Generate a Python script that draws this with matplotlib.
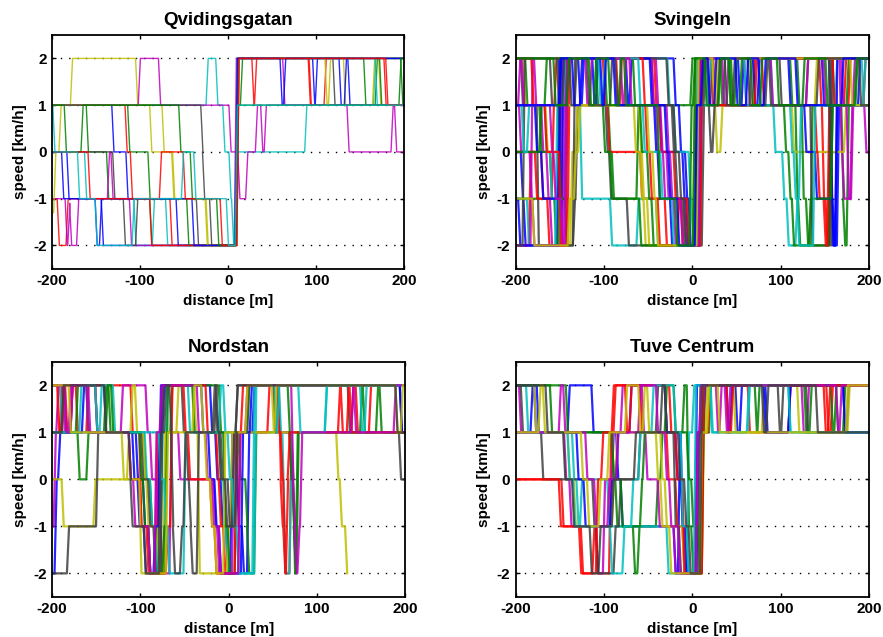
import matplotlib
matplotlib.use("Agg")
import matplotlib.pyplot as plt

plt.rcParams['font.family'] = ['Liberation Sans', 'DejaVu Sans']
plt.rcParams['font.weight'] = 'bold'
plt.rcParams['axes.unicode_minus'] = False

titles = ['Qvidingsgatan', 'Svingeln', 'Nordstan', 'Tuve Centrum']
xlabel = 'distance [m]'
ylabel = 'speed [km/h]'
xticks = [-200, -100, 0, 100, 200]
yticks = [-2, -1, 0, 1, 2]

# old matlab colour order: b g r c m y k
colors = [(0, 0, 1), (0, 0.5, 0), (1, 0, 0), (0, 0.75, 0.75),
          (0.75, 0, 0.75), (0.75, 0.75, 0), (0.25, 0.25, 0.25)]

# each trace: (distance where speed switches, new speed); None = trace ends
qvidingsgatan = [
    [(-200, 0), (-182, -1), (-143, -2), (9, 2), (137, 1)],
    [(-200, 1), (-160, 0), (-137, -1), (-88, -2), (10, 2), (155, 1), (168, 2), (197, 1)],
    [(-200, -1), (-193, -2), (-183, -1), (-65, -2), (11, 2), (28, 1), (31, 2), (93, 1)],
    [(-200, 1), (-198, 0), (-162, -1), (-106, -2), (-85, -1), (-70, -2), (8, 0), (88, 1), (166, 2)],
    [(-200, -1), (-184, -2), (-181, -1.1), (-179, -2), (-171, -1), (-136, 0), (-132, -1), (-111, -2),
     (8, 2), (63, 1), (136, 0), (186, 1), (190, 0)],
    [(-200, -1.3), (-197, 0), (-191, 1), (-178, 2), (-104, 1), (-74, 0), (-62, -1), (-24, -2),
     (9, 2), (132, 1), (165, 2), (172, 1)],
    [(-200, 0), (-130, -1), (-118, -2), (-104, -1), (-35, -2), (10, 2), (120, 1)],
    [(-200, 1), (-131, 0), (-115, -1), (-58, -2), (10, 2), (97, 1), (100, 2), (127, 1), (133, 2)],
    [(-200, 1), (-113, 0), (-90, -1), (-46, -2), (9, 1), (15, 2), (173, 1)],
    [(-200, 1), (-116, 0), (-110, -1), (-88, -2), (10, 2), (92, 1), (110, 2), (178, 1)],
    [(-200, 1), (-24, 2), (-13, 1), (-5, 0), (2, -1), (5, -2), (11, 2), (168, 1)],
    [(-200, 1), (-101, 2), (-78, 1), (2, 0), (12, -1), (21, 0), (32, 1), (38, 0), (42, 1)],
    [(-200, 1), (-88, 0), (-63, -1), (-25, -2), (10, 2), (111, 1), (115, 2)],
    [(-200, 1), (-30, 0), (-28, -1), (-20, -2), (10, 2)],
    [(-200, 0), (-188, -1), (-150, -2), (-145, -1), (-40, -2), (9, 2), (60, 1), (64, 2)],
    [(-200, 1), (-185, 0), (-166, 1), (-55, 0), (-42, -1), (-12, -2), (10, 1), (195, 2)],
    [(-200, 0), (-158, -1), (-77, 0), (-50, -1), (-8, -2), (11, 2), (180, 1)],
    [(-200, 0), (-170, -1), (-150, -2), (-108, -1), (-52, 0), (-38, -1), (-1, -2), (9, 1)],
]

svingeln = [
    [(-200, 0), (-193, -1), (-190, -2), (-152, 2), (-112, 1), (-108, 2), (-45, 1), (-36, 0), (-10, -1),
     (-6, -2), (4, 2), (53, 1), (57, 2), (156, 1), (158, -2), (165, 1), (189, 2)],
    [(-200, -1), (-155, -2), (-150, 2), (-98, 1), (-94, 0), (-90, -1), (-62, 1), (-1, 2), (45, 1), (49, 2),
     (112, 1), (118, -1), (121, -2), (135, 1), (170, -1), (172, -2), (176, 1), (186, 2)],
    [(-200, -2), (-184, 0), (-170, -1), (-163, -2), (-140, 2), (-100, 1), (-95, 0), (-58, -1), (-30, -2),
     (8, 2), (25, 1), (70, 2), (145, 1), (148, -1), (152, -2), (156, 1), (178, 2)],
    [(-200, -1), (-186, -2), (-154, 1), (-126, -1), (-92, -2), (-62, -1), (-40, -2), (8, 2), (16, 1),
     (21, 2), (160, 1), (163, 2), (193, 1)],
    [(-200, -2), (-182, 2), (-178, 1), (-170, 0), (-164, -1), (-160, -2), (-148, 2), (-45, 1), (-40, 0),
     (-28, -1), (-8, -2), (10, 2), (60, 1), (66, 2), (168, 0), (171, -1), (180, 1), (196, 0)],
    [(-200, 1), (-59, 0), (-56, -1), (-54, -2), (3, 2), (69, 1), (114, 0), (173, 1)],
    [(-200, 2), (-193, 1), (-175, -2), (-134, -1), (-131, 1), (-97, 0), (-93, -1), (-73, -2), (9, 1),
     (12, 2), (100, 1), (135, -2), (156, 2)],
    [(-200, -1), (-196, -2), (-147, 2), (-74, 1), (-70, 2), (-20, 1), (-14, 0), (-7, -1), (-3, -2),
     (6, 1), (10, 2), (148, 1), (157, -1), (159, -2), (163, 2)],
    [(-200, 2), (-188, 1), (-172, 0), (-160, -1), (-143, 2), (-66, 1), (-58, 0), (-50, -1), (-45, -2),
     (5, 1), (12, 2), (33, 1), (36, 2), (120, 1), (125, -1), (130, -2), (155, 1)],
    [(-200, 0), (-177, -1), (-158, 1), (-155, 2), (-85, 1), (-81, 2), (-42, 1), (-36, 0), (-20, -1),
     (-5, -2), (7, 2), (80, 1), (140, 0), (143, -1), (150, -2), (154, 1), (195, 2)],
    [(-200, 1), (-166, 0), (-160, -1), (-142, 2), (-27, 1), (-20, 0), (-3, -1), (0, -2), (5, 2), (90, 1),
     (93, 0), (103, -1), (108, -2), (118, -1), (122, 1), (195, 2)],
    [(-200, 1), (-195, 0), (-183, -1), (-180, -2), (-145, 2), (-80, 1), (-76, 2), (-40, 1), (-35, 0),
     (-32, -1), (-20, -2), (9, 2), (35, 1), (40, 2), (150, 1), (176, -1), (181, 1)],
    [(-200, 2), (-190, 1), (-165, 0), (-150, -2), (-137, 0), (-131, 1), (-65, 0), (-58, -1), (-50, -2),
     (2, 1), (27, 0), (33, 1), (140, 2)],
    [(-200, -2), (-191, 2), (-160, 1), (-150, -1), (-143, -2), (-134, 2), (-28, 1), (-22, 0), (-18, -1),
     (-10, -2), (12, 1), (20, 0), (24, 1), (130, 2), (156, -2), (158, 2)],
    [(-200, 1), (-177, 0), (-170, -1), (-150, 2), (-128, 1), (-124, 2), (-47, 1), (-42, 0), (-38, -1),
     (-24, -2), (8, 2), (70, 1), (75, 2), (110, 1), (128, 0), (140, -1), (160, -2), (163, 1)],
    [(-200, 0), (-172, 1), (-166, 2), (-108, 1), (-100, 0), (-92, -1), (-59, -2), (-2, 1), (2, 2), (42, 1),
     (105, 0), (110, -1), (114, -2), (133, -1), (158, 1), (176, 2)],
    [(-200, 2), (-181, 1), (-166, 0), (-150, -2), (-142, 2), (-55, 1), (-52, 0), (-47, -1), (-38, -2),
     (-16, -1), (-12, -2), (10, 2), (22, 1), (72, 2), (160, 1), (173, 2)],
    [(-200, 1), (-192, 0), (-186, 1), (-145, 2), (-105, 1), (-100, 2), (-60, 1), (-55, 0), (-35, -1),
     (-22, -2), (7, 1), (20, 2), (60, 1), (112, 0), (116, -1), (120, -2), (138, 1)],
    [(-200, 1), (-196, 2), (-192, 1), (-160, 0), (-156, -1), (-148, -2), (-143, 2), (-120, 1), (-115, 2),
     (-70, 1), (-28, 0), (-24, -1), (-12, -2), (8, 2), (90, 1), (130, 2), (170, 1), (183, 2)],
    [(-200, -1), (-180, -2), (-140, -1), (-133, 0), (-128, 1), (-50, 0), (-44, -1), (-40, -2), (6, 2),
     (24, 1), (28, 2), (180, 1)],
    [(-200, 2), (-152, 1), (-146, 2), (-138, 1), (-132, 2), (-118, 1), (-92, 2), (-86, 1), (-20, 0),
     (-14, -1), (-8, -2), (3, 1), (14, 2), (18, 1), (30, 2), (38, 1), (47, 2), (64, 1), (84, 2), (88, 1),
     (142, 2), (190, 1)],
    [(-200, 1), (-150, 2), (-135, 1), (-126, 2), (-103, 1), (-99, 2), (-88, 1), (-30, 0), (-26, -1),
     (-16, -2), (4, 1), (11, 2), (19, 1), (26, 2), (50, 1), (62, 2), (76, 1), (82, 2), (118, 1), (170, 2)],
    [(-200, 2), (-156, 1), (-141, 2), (-116, 1), (-110, 2), (-94, 1), (-82, 2), (-76, 1), (-38, -1),
     (-18, -2), (2, 2), (15, 1), (31, 2), (43, 1), (55, 2), (67, 1), (78, 2), (97, 1), (126, 2), (152, 1),
     (185, 2)],
]

nordstan = [
    [(-200, -2), (-196, 0), (-192, 1), (-178, 2), (-140, 1), (-104, 0), (-96, -1), (-90, -2), (-80, 1),
     (-74, 2), (-20, 1), (-14, 0), (-8, -1), (-2, -2), (3, 1), (10, -1), (16, -2), (22, 1), (28, 2), (195, 1)],
    [(-200, 2), (-185, 1), (-170, 0), (-160, 1), (-140, 2), (-135, 1), (-95, 0), (-88, -1), (-80, -2),
     (-72, 1), (-65, 2), (-10, 1), (12, 0), (20, -1), (22, -2), (30, 1), (72, 0), (73, -1), (75, -2),
     (78, 1), (168, 2), (172, 1)],
    [(-200, 1), (-190, 2), (-184, 1), (-178, 2), (-172, 1), (-160, 2), (-110, 1), (-100, -1), (-90, -2),
     (-82, 1), (-76, 2), (-25, 1), (-13, 0), (-10, -1), (-5, -2), (12, 1), (45, 2), (58, 0), (60, -1),
     (63, -2), (70, 1), (125, 2), (128, 1), (140, 2), (145, 1), (160, 2)],
    [(-200, 2), (-190, 1), (-145, 2), (-130, 1), (-94, 0), (-88, -1), (-82, -2), (-76, 1), (-70, 2),
     (-45, 1), (-10, 0), (-5, -1), (-2, -2), (30, 2), (58, 1), (62, -1), (64, -2), (70, 1), (110, 2)],
    [(-200, -1), (-197, 1), (-194, 2), (-187, 1), (-180, 2), (-158, 1), (-121, 2), (-93, 1), (-88, 0),
     (-81, -1), (-76, -2), (-66, 1), (-56, 0), (-16, -1), (-12, -2), (5, 1), (22, 2), (52, 1), (70, 0),
     (74, -1), (75, -1.75), (76, None)],
    [(-200, 0), (-188, -1), (-152, 0), (-114, 1), (-110, 2), (-105, 1), (-96, 0), (-92, -1), (-80, -2),
     (-73, 1), (-58, 2), (-38, 1), (-34, -2), (-1, -1), (3, 1), (123, 0), (127, -1), (133, -2), (134, None)],
    [(-200, -2), (-182, -1), (-149, 1), (-98, 0), (-90, -1), (-84, -2), (-76, 2), (-52, 1), (-47, 0),
     (-44, -1), (-42, -2), (-35, 1), (-17, 2), (-14, 1), (-10, 0), (0, -1), (5, 1), (9, 2), (52, 1),
     (55, 2), (136, 1), (194, 0)],
    [(-200, 1), (-165, 2), (-150, 1), (-108, 0), (-102, -1), (-95, -2), (-84, -1), (-78, 2), (-30, 1),
     (-22, 0), (-15, -1), (-10, -2), (15, 1), (25, 2), (195, 1)],
    [(-200, 1), (-172, 2), (-160, 1), (-138, 2), (-132, 1), (-100, 0), (-96, -1), (-90, -2), (-74, -1),
     (-70, 2), (-40, 1), (-5, -1), (0, -2), (8, 1), (22, 2), (68, 1), (70, 0), (74, -2), (77, 1),
     (150, 2), (153, 1)],
    [(-200, 2), (-193, 1), (-188, 2), (-150, 1), (-112, 0), (-100, -1), (-92, -2), (-70, -1), (-65, 2),
     (-50, 1), (-45, 0), (-20, -1), (-15, -2), (8, 1), (15, 2), (56, 1), (60, 0), (63, -2), (66, 0),
     (68, 1), (135, 2), (138, 1)],
    [(-200, 1), (-168, 2), (-150, 1), (-78, 0), (-72, -1), (-68, -2), (-50, 1), (-10, 2), (-5, 1), (0, 0),
     (5, -1), (10, -2), (28, 2), (53, 1), (56, 2), (80, 1), (110, 2), (150, 1), (155, 2)],
    [(-200, 2), (-185, 1), (-178, 2), (-160, 1), (-112, 0), (-107, -1), (-90, -2), (-83, 1), (-77, 2),
     (-35, 1), (-25, 0), (-18, -1), (-10, -2), (12, 1), (20, 2), (72, 0), (74, -1), (76, -2), (79, -1),
     (82, 1), (140, 2), (143, 1), (188, 2)],
    [(-200, 2), (-180, 1), (-120, 0), (-100, -2), (-70, 1), (-40, 2), (-30, 1), (-26, 0), (-20, -1),
     (-15, -2), (-5, 1), (20, 2), (50, 1), (53, 2), (190, 1), (196, 2)],
    [(-200, 1), (-188, 2), (-140, 1), (-112, 0), (-110, -1), (-95, -2), (-78, 1), (-72, 2), (-66, 1),
     (-64, -1), (-62, -2), (-54, -1), (-50, 1), (-15, 2), (-13, 1), (-8, 0), (-3, -1), (8, 1), (9, 2),
     (190, 1)],
]

tuve = [
    [(-200, 1), (-182, 2), (-178, 1), (-140, 2), (-113, 1), (-85, 0), (-80, -1), (-20, -2), (-15, 1),
     (-12, -1), (-6, -2), (6, 1), (14, 2), (50, 1), (55, 2), (84, 1), (110, 2), (172, 1), (176, 2)],
    [(-200, 2), (-142, 1), (-90, 0), (-86, -1), (-66, -2), (-61, -1), (-40, 0), (-35, 1), (-10, 2),
     (-5, -1), (0, -2), (11, 1), (20, 2), (72, 1), (75, 2), (164, 1), (172, 2)],
    [(-200, 0), (-147, -1), (-127, -2), (-112, -1), (-108, -2), (-93, 1), (-88, 2), (-58, 1), (-28, 0),
     (-18, -1), (-10, -2), (11, 1), (19, 2), (64, 1), (110, 2), (153, 1), (158, 2)],
    [(-200, 2), (-187, 1), (-135, 0), (-130, -1), (-126, 0), (-95, -1), (-28, -2), (-5, 1), (1, 2),
     (21, 1), (64, 2), (110, 1)],
    [(-200, 2), (-195, 1), (-144, 0), (-138, -1), (-108, -2), (-100, 0), (-90, 1), (-80, 2), (-56, 1),
     (-52, 0), (-38, -1), (-20, -2), (5, 1), (12, 2), (28, 1), (32, 2), (125, 1), (131, 2)],
    [(-200, 2), (-178, 1), (-140, 0), (-133, -1), (-90, 0), (-86, 1), (-55, 2), (-50, 1), (-35, 0),
     (-30, -1), (-10, -2), (12, 1), (16, 2), (48, 1), (80, 2), (120, 1), (177, 2)],
    [(-200, 2), (-193, 1), (-170, 0), (-112, -1), (-108, -2), (-88, -1), (-82, 0), (-60, 1), (-40, 2),
     (-30, 1), (-20, -1), (-14, -2), (8, 2), (98, 1), (102, 2), (130, 1)],
    [(-200, 2), (-175, 1), (-130, 0), (-122, -1), (-92, 0), (-85, 1), (-70, 2), (-30, 1), (-18, 0),
     (-12, -1), (-8, -2), (4, 2), (40, 1), (44, 2), (82, 1), (110, 2), (172, 1)],
    [(-200, 2), (-160, 1), (-90, 0), (-80, -1), (-58, 0), (-55, 1), (-30, 2), (-20, 1), (-5, 0), (0, -1),
     (8, -2), (12, 2), (128, 1), (134, 2), (158, 1), (162, 2)],
    [(-200, 0), (-150, -1), (-125, -2), (-108, 0), (-102, 1), (-90, 2), (-75, 1), (-70, 2), (-25, 1),
     (-18, 0), (-10, -2), (12, 2), (40, 1), (45, 2), (150, 1), (155, 2)],
    [(-200, 1), (-140, 0), (-134, -1), (-92, -2), (-78, -1), (-68, 0), (-60, 1), (-45, 2), (-20, 1),
     (-12, -1), (-5, -2), (3, 2), (22, 1), (63, 2), (110, 1)],
    [(-200, 1), (-150, 2), (-145, 1), (-120, 0), (-110, -1), (-95, 0), (-85, 1), (-60, 2), (-40, 1),
     (-30, 0), (-25, -1), (-15, -2), (5, 1), (9, 2), (38, 1), (42, 2), (164, 1), (168, 2)],
    [(-200, 1), (-173, 2), (-168, 1), (-125, 0), (-118, -1), (-105, 0), (-95, 1), (-75, 2), (-60, 1),
     (-40, 0), (-35, -1), (-25, -2), (10, 1), (18, 2), (30, 1), (175, 2)],
    [(-200, 2), (-165, 1), (-145, 0), (-135, -1), (-115, -2), (-105, -1), (-90, 0), (-65, 1), (-35, 2),
     (-30, 1), (-15, 0), (-8, -1), (-3, -2), (10, 2), (80, 1), (85, 2), (141, 1)],
]

panels = [qvidingsgatan, svingeln, nordstan, tuve]
widths = [1.0, 1.6, 1.6, 1.6]


def trace_xy(trace, ramp=2.5):
    xs, ys = [trace[0][0]], [trace[0][1]]
    lev = trace[0][1]
    for x, new in trace[1:]:
        if new is None:
            xs.append(x)
            ys.append(lev)
            return xs, ys
        xs += [x - ramp / 2, x + ramp / 2]
        ys += [lev, new]
        lev = new
    xs.append(200)
    ys.append(lev)
    return xs, ys


fig = plt.figure(figsize=(8.83, 6.37), dpi=100)
rects = [[0.059, 0.578, 0.399, 0.367], [0.584, 0.578, 0.400, 0.367],
         [0.059, 0.063, 0.400, 0.369], [0.584, 0.063, 0.400, 0.369]]

for k in range(4):
    ax = fig.add_axes(rects[k])
    for i, tr in enumerate(panels[k]):
        x, y = trace_xy(tr)
        ax.plot(x, y, color=colors[i % 7], lw=widths[k], alpha=0.85)
    ax.set_xlim(-200, 200)
    ax.set_ylim(-2.5, 2.5)
    ax.set_xticks(xticks)
    ax.set_yticks(yticks)
    ax.set_xticklabels([str(v) for v in xticks])
    ax.set_yticklabels([str(v) for v in yticks])
    ax.yaxis.grid(True, color='k', linestyle=(0, (1, 5)), linewidth=1.0)
    ax.set_axisbelow(True)
    ax.tick_params(direction='in', length=3, width=1, top=True, right=True,
                   labelsize=11, pad=4)
    for s in ax.spines.values():
        s.set_linewidth(1.3)
    ax.set_title(titles[k], fontsize=13.5, fontweight='bold', pad=7)
    ax.set_xlabel(xlabel, fontsize=11, fontweight='bold', labelpad=4)
    ax.set_ylabel(ylabel, fontsize=11, fontweight='bold', labelpad=4)

fig.savefig('out.png', dpi=100)
